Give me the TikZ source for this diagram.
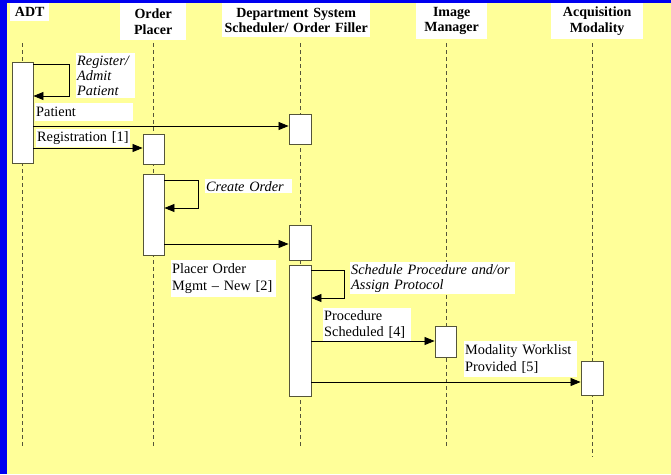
\documentclass[tikz,border=0pt]{standalone}
\usepackage{fontspec}
\setmainfont{Liberation Serif}
\usetikzlibrary{arrows.meta}
\definecolor{bg}{HTML}{FFFF99}
\definecolor{edge}{HTML}{55553A}
\definecolor{frame}{HTML}{0000F0}
\tikzset{
  hdr/.style={fill=white, font=\bfseries\fontsize{14}{15.5}\selectfont, align=center, inner sep=0pt, anchor=north west},
  act/.style={draw=edge, fill=white, line width=0.9pt, inner sep=0pt},
  life/.style={draw=edge, line width=0.8pt, dash pattern=on 4pt off 3pt},
  msg/.style={draw=black, line width=0.8pt, -{Triangle[length=10pt,width=8pt]}},
  lbl/.style={fill=white, font=\fontsize{14.3}{16.5}\selectfont, align=left, inner xsep=1pt, inner ysep=0pt, anchor=north west},
  ilbl/.style={lbl, font=\itshape\fontsize{14.3}{15}\selectfont}
}
\begin{document}
\begin{tikzpicture}[x=1pt,y=-1pt]
\useasboundingbox (0,0) rectangle (671,474);
\fill[bg] (0,0) rectangle (671,474);
\fill[frame] (0,0) rectangle (7,474);
\fill[frame] (0,0) rectangle (671,3);

% headers
\node[hdr, minimum width=39pt, minimum height=18pt, text width=39pt] (hADT) at (10,3) {ADT};
\node[hdr, minimum width=66pt, minimum height=37pt, text width=66pt] (hOP) at (120,3) {Order\\Placer};
\node[hdr, minimum width=148pt, minimum height=34pt, text width=148pt] (hDS) at (222,3) {Department System\\Scheduler/ Order Filler};
\node[hdr, minimum width=71pt, minimum height=36pt, text width=71pt] (hIM) at (416,3) {Image\\Manager};
\node[hdr, minimum width=92pt, minimum height=36pt, text width=92pt] (hAQ) at (551,3) {Acquisition\\Modality};

% lifelines
\coordinate (lADTa) at (22.5,43); \coordinate (lADTb) at (22.5,448);
\coordinate (lOPa) at (153.5,43); \coordinate (lOPb) at (153.5,448);
\coordinate (lDSa) at (300,43); \coordinate (lDSb) at (300,448);
\coordinate (lIMa) at (446,43); \coordinate (lIMb) at (446,448);
\coordinate (lAQa) at (592,43); \coordinate (lAQb) at (592,457);
\draw[life] (lADTa) -- (lADTb);
\draw[life] (lOPa) -- (lOPb);
\draw[life] (lDSa) -- (lDSb);
\draw[life] (lIMa) -- (lIMb);
\draw[life] (lAQa) -- (lAQb);

% activation boxes
\node[act, minimum width=21pt, minimum height=101pt] (adt1) at (22.5,112.5) {};
\node[act, minimum width=21pt, minimum height=30pt] (op1) at (153.5,149) {};
\node[act, minimum width=21pt, minimum height=81pt] (op2) at (153.5,214.5) {};
\node[act, minimum width=22pt, minimum height=30pt] (d1) at (300,129) {};
\node[act, minimum width=22pt, minimum height=35pt] (d2) at (300,242.5) {};
\node[act, minimum width=22pt, minimum height=131pt] (d3) at (300,330.5) {};
\node[act, minimum width=21pt, minimum height=31pt] (im1) at (445.5,341.5) {};
\node[act, minimum width=22pt, minimum height=34pt] (aq1) at (592,378) {};

% labels
\node[ilbl, text width=57pt, minimum height=45pt] (tReg) at (76,53) {Register/\\Admit\\Patient};
\node[lbl, text width=96pt, minimum height=18pt] (tPat) at (35,103) {Patient};
\node[lbl, text width=92pt, minimum height=18pt] (tRegi) at (36,129) {Registration [1]};
\node[ilbl, text width=85pt, minimum height=14pt] (tCO) at (205,179) {Create Order};
\node[lbl, text width=103pt, minimum height=37pt] (tPO) at (171,260) {Placer Order\\Mgmt -- New [2]};
\node[ilbl, text width=163pt, minimum height=32pt] (tSP) at (350,262) {Schedule Procedure and/or\\Assign Protocol};
\node[lbl, text width=86pt, minimum height=33pt] (tPS) at (323,308) {Procedure\\Scheduled [4]};
\node[lbl, text width=111pt, minimum height=36pt] (tMW) at (464,341) {Modality Worklist\\Provided [5]};

% messages
\draw[msg] (adt1.east |- 0,64) -- (69,64) |- (adt1.east |- 0,96);
\draw[msg] (adt1.east |- 0,126) -- (d1.west |- 0,126);
\draw[msg] (adt1.east |- 0,148) -- (op1.west |- 0,148);
\draw[msg] (op2.east |- 0,180) -- (198,180) |- (op2.east |- 0,208);
\draw[msg] (op2.east |- 0,244) -- (d2.west |- 0,244);
\draw[msg] (d3.east |- 0,270) -- (344,270) |- (d3.east |- 0,298);
\draw[msg] (d3.east |- 0,341) -- (im1.west |- 0,341);
\draw[msg] (d3.east |- 0,382) -- (aq1.west |- 0,382);
\end{tikzpicture}
\end{document}
